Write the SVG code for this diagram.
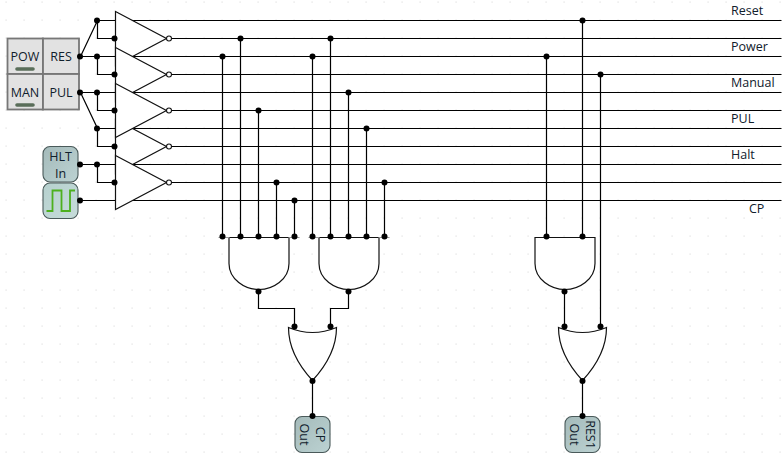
<svg xmlns="http://www.w3.org/2000/svg" width="784" height="461" viewBox="0 0 784 461">
<style>
text{font-family:"Open Sans","Noto Sans","Liberation Sans",sans-serif;font-size:12.500px;fill:#10202c}
.w{fill:none;stroke:#000;stroke-width:1.2}
.g{fill:#fff;stroke:#111;stroke-width:1.2;stroke-linejoin:miter}
.k{fill:#e2e2e2;stroke:#777;stroke-width:1.8}
.led{fill:none;stroke:#5a6e5a;stroke-width:3.6;stroke-linecap:round}
.n{fill:url(#ng);stroke:#4a5a5a;stroke-width:1.1}
</style>
<defs>
<pattern id="grid" x="0" y="0" width="18" height="18" patternUnits="userSpaceOnUse"><rect x="5.500" y="1.500" width="1.200" height="1.200" fill="#e0e0e0"/></pattern>
<linearGradient id="ng" x1="0" y1="0" x2="1" y2="1"><stop offset="0" stop-color="#a4baba"/><stop offset="1" stop-color="#bcd2d2"/></linearGradient>
<linearGradient id="cg" x1="0" y1="0" x2="1" y2="1"><stop offset="0" stop-color="#b6d0ce"/><stop offset="1" stop-color="#c6dcda"/></linearGradient>
<circle id="d" r="3" fill="#000"/>
<path id="and" d="M-30 0V26C-30 42 -14 52 0 52C14 52 30 42 30 26V0Z"/>
<path id="or" d="M-24 0Q0 10 24 0C24 22 12 40 0 53C-12 40 -24 22 -24 0Z"/>
</defs>
<rect width="784" height="461" fill="#fff"/>
<rect width="784" height="461" fill="url(#grid)"/>
<g transform="translate(0.5 0.5)">
<g id="connectors">
<path class="w" d="M97 20H781M115 38H781M80 56H781M115 74H781M80 92H781M115 110H781M97 128H781M115 146H781M80 164H781M115 182H781M80 200H781"/>
<path class="w" d="M80 56L97 20V38H115M97 56V74H115M97 92V110H115M80 92L97 128V146H115M97 164V182H115"/>
<path class="w" d="M222 56V236M240 38V236M258 110V236M276 182V236M294 200V236M312 56V236M330 38V236M348 92V236M366 128V236M384 182V236M546 56V236M582 20V236M600 74V326"/>
<path class="w" d="M258 289V308H294V327M348 289V308H330V327M564 289V327M312 380V416M582 380V416"/>
</g>
<g id="buffers">
<path id="b1" class="g" d="M115 11L166 38L115 65Z"/>
<path id="b2" class="g" d="M115 47L166 74L115 101Z"/>
<path id="b4" class="g" d="M115 119L166 146L115 173Z"/>
<path id="b3" class="g" d="M115 83L166 110L115 137Z"/>
<path id="b5" class="g" d="M115 155L166 182L115 209Z"/>
<g fill="#fff" stroke="#111" stroke-width="1.1"><circle cx="168.500" cy="38" r="2.500"/><circle cx="168.500" cy="74" r="2.500"/><circle cx="168.500" cy="110" r="2.500"/><circle cx="168.500" cy="146" r="2.500"/><circle cx="168.500" cy="182" r="2.500"/></g>
</g>
<g id="and1"><use href="#and" x="258.500" y="237" class="g"/></g>
<g id="and2"><use href="#and" x="348.500" y="237" class="g"/></g>
<g id="and3"><use href="#and" x="564.500" y="237" class="g"/></g>
<g id="or1"><use href="#or" x="312" y="327" class="g"/></g>
<g id="or2"><use href="#or" x="582" y="327" class="g"/></g>
<g id="pins"><path d="M218 237H229M288 237H299M308 237H319M378 237H389" stroke="#999" stroke-width="1" fill="none"/></g>
</g>
<g id="panel">
<rect class="k" x="7.500" y="38.500" width="35.500" height="35.500"/><rect class="k" x="43" y="38.500" width="36" height="35.500"/>
<rect class="k" x="7.500" y="74" width="35.500" height="35.500"/><rect class="k" x="43" y="74" width="36" height="35.500"/>
<text x="25" y="61" text-anchor="middle">POW</text><text x="61" y="61" text-anchor="middle">RES</text>
<text x="25" y="97" text-anchor="middle">MAN</text><text x="61" y="97" text-anchor="middle">PUL</text>
<path class="led" d="M17 69H33M17 105H33"/>
</g>
<g id="hlt"><rect class="n" x="43" y="146.500" width="35" height="35.500" rx="7"/><text x="60.500" y="161" text-anchor="middle">HLT</text><text x="60.500" y="178" text-anchor="middle">In</text></g>
<g id="clock"><rect x="43" y="183" width="35" height="35.500" rx="7" fill="url(#cg)" stroke="#4a5a5a" stroke-width="1.100"/><path d="M46.500 211H52.500V190.500H61.500V211H70V190.500H75" fill="none" stroke="#4db01e" stroke-width="1.800"/></g>
<g id="cpout"><rect class="n" x="295" y="416.500" width="35" height="36" rx="7"/></g>
<g id="resout"><rect class="n" x="565" y="416.500" width="35" height="36" rx="7"/></g>
<g id="dots" transform="translate(0.5 0.5)">
<use href="#d" x="79.500" y="56"/><use href="#d" x="79.500" y="92"/><use href="#d" x="79.500" y="164"/><use href="#d" x="79.500" y="200"/>
<use href="#d" x="96.500" y="20"/><use href="#d" x="96.500" y="56"/><use href="#d" x="96.500" y="92"/><use href="#d" x="96.500" y="128"/><use href="#d" x="96.500" y="164"/>
<use href="#d" x="114" y="38"/><use href="#d" x="114" y="74"/><use href="#d" x="114" y="110"/><use href="#d" x="114" y="146"/><use href="#d" x="114" y="182"/>
<use href="#d" x="222" y="56"/><use href="#d" x="240" y="38"/><use href="#d" x="258" y="110"/><use href="#d" x="276" y="182"/><use href="#d" x="294" y="200"/><use href="#d" x="312" y="56"/><use href="#d" x="330" y="38"/><use href="#d" x="348" y="92"/><use href="#d" x="366" y="128"/><use href="#d" x="384" y="182"/><use href="#d" x="546" y="56"/><use href="#d" x="582" y="20"/><use href="#d" x="600" y="74"/>
<use href="#d" x="222" y="236"/><use href="#d" x="240" y="236"/><use href="#d" x="258" y="236"/><use href="#d" x="276" y="236"/><use href="#d" x="294" y="236"/><use href="#d" x="312" y="236"/><use href="#d" x="330" y="236"/><use href="#d" x="348" y="236"/><use href="#d" x="366" y="236"/><use href="#d" x="384" y="236"/><use href="#d" x="546" y="236"/><use href="#d" x="582" y="236"/>
<use href="#d" x="258" y="291"/><use href="#d" x="348" y="291"/><use href="#d" x="564" y="291"/>
<use href="#d" x="294" y="326"/><use href="#d" x="330" y="326"/><use href="#d" x="564" y="326"/><use href="#d" x="600" y="326"/>
<use href="#d" x="312" y="380.500"/><use href="#d" x="582" y="380.500"/><use href="#d" x="312" y="415.500"/><use href="#d" x="582" y="415.500"/>
</g>
<g id="labels">
<text x="731" y="14.500">Reset</text><text x="731" y="50.500">Power</text><text x="731" y="86.500">Manual</text><text x="731" y="122.500">PUL</text><text x="731" y="158.500">Halt</text><text x="749" y="212.500">CP</text>
<text transform="translate(316 434.500) rotate(90)" text-anchor="middle">CP</text><text transform="translate(300 434.500) rotate(90)" text-anchor="middle">Out</text>
<text transform="translate(586 434.500) rotate(90)" text-anchor="middle">RES1</text><text transform="translate(570 434.500) rotate(90)" text-anchor="middle">Out</text>
</g>
</svg>
